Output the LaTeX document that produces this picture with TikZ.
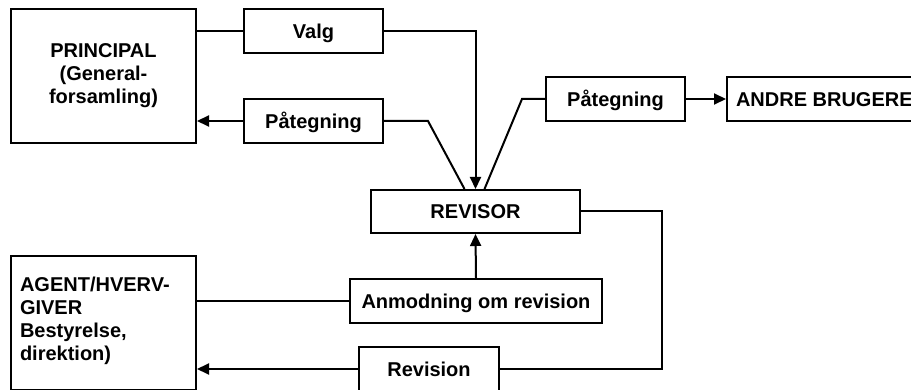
\documentclass[tikz,border=0pt]{standalone}
\usepackage{fontspec}
\setmainfont{Liberation Sans}
\usetikzlibrary{arrows.meta}
\begin{document}
\begin{tikzpicture}[x=1pt,y=-1pt,
  every node/.style={font=\fontsize{20}{23}\selectfont\bfseries},
  box/.style={draw,line width=2pt,rectangle,inner sep=0pt},
  oneline/.style={text height=14.5pt,text depth=0pt},
  party/.style={box,minimum height=134pt,text width=167pt,inner xsep=9pt,text height=14pt},
  small/.style={box,oneline,minimum width=139pt,minimum height=44pt},
  link/.style={line width=2pt},
  flow/.style={link,-{Triangle[length=12pt,width=11pt]}}]
  \useasboundingbox (0,0) rectangle (911,390);

  % parties
  \node[party,align=center,text depth=51pt] (principal) at (103.5,76)
    {PRINCIPAL\\(General-\\forsamling)};
  \node[party,align=left,text depth=76pt] (agent) at (103.5,323)
    {AGENT/HVERV-\\GIVER\\Bestyrelse,\\direktion)};
  \node[box,oneline,minimum width=209pt,minimum height=43pt] (revisor) at (475.5,211.5) {REVISOR};
  \node[box,oneline,minimum height=44pt,inner xsep=9pt,anchor=west] (andre) at (726,99) {ANDRE BRUGERE};

  % messages
  \node[small] (valg) at (313.5,31) {Valg};
  \node[small] (pat1) at (313.5,121) {Påtegning};
  \node[small] (pat2) at (615.5,99) {Påtegning};
  \node[box,oneline,minimum width=252pt,minimum height=44pt] (anmod) at (476,301) {Anmodning om revision};
  \node[small,minimum width=140pt] (revision) at (429,369) {Revision};

  % bend points
  \coordinate (k1) at (428,121);
  \coordinate (k2) at (522,99);
  \coordinate (k3) at (662,369);

  % connectors
  \draw[link] (valg.west) -- (valg.west -| principal.east);
  \draw[flow] (valg.east) -| (revisor.north);
  \draw[flow] (pat1.west) -- (pat1.west -| principal.east);
  \draw[link] (pat1.east) -- (k1) -- ([xshift=-11pt]revisor.north);
  \draw[link] ([xshift=9pt]revisor.north) -- (k2) -- (pat2.west);
  \draw[flow] (pat2.east) -- (andre.west);
  \draw[flow] (anmod.north) -- (revisor.south);
  \draw[link] (anmod.west) -- (anmod.west -| agent.east);
  \draw[link] (revisor.east) -| (k3) -- (revision.east);
  \draw[flow] (revision.west) -- (revision.west -| agent.east);
\end{tikzpicture}
\end{document}
